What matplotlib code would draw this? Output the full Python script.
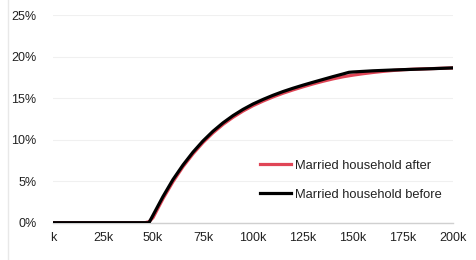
import matplotlib
matplotlib.use("Agg")
import matplotlib.pyplot as plt
from matplotlib.lines import Line2D
from matplotlib.ticker import FuncFormatter

plt.rcParams['font.family'] = ['Liberation Sans', 'DejaVu Sans']

income_k = [0, 10, 20, 30, 40, 46, 48, 50, 55, 60, 65, 70, 75, 80, 85, 90, 95, 100,
            105, 110, 115, 120, 125, 130, 135, 140, 145, 148, 150, 155, 160, 165, 170,
            175, 180, 190, 200]
before = [0, 0, 0, 0, 0, 0, 0, 0.9, 3.15, 5.2, 6.95, 8.5, 9.85, 11.02, 12.03, 12.9,
          13.65, 14.3, 14.85, 15.35, 15.8, 16.2, 16.57, 16.92, 17.26, 17.6, 17.92,
          18.12, 18.16, 18.23, 18.3, 18.35, 18.4, 18.44, 18.48, 18.56, 18.65]
after = [0, 0, 0, 0, 0, 0, 0.12, 0.6, 2.9, 4.95, 6.75, 8.3, 9.66, 10.83, 11.84, 12.7,
         13.45, 14.1, 14.65, 15.15, 15.6, 16.0, 16.37, 16.72, 17.04, 17.33, 17.58,
         17.7, 17.78, 17.95, 18.1, 18.23, 18.34, 18.43, 18.49, 18.57, 18.65]
x_ticks = [0, 25, 50, 75, 100, 125, 150, 175, 200]
y_ticks = [0, 5, 10, 15, 20, 25]
labels = ["Married household after", "Married household before"]

W, H = 477, 260
fig = plt.figure(figsize=(W / 100, H / 100), dpi=100)
ax = fig.add_axes([53 / W, 1 - 222.7 / H, 400 / W, (222.7 - 15.2) / H])

red = '#e04556'
ax.plot(income_k, after, color=red, lw=2.3, solid_joinstyle='round', zorder=3)
ax.plot(income_k, before, color='black', lw=2.3, solid_joinstyle='round', zorder=4)

ax.set_xlim(0, 200)
ax.set_ylim(0, 25)
ax.set_xticks(x_ticks)
ax.set_yticks(y_ticks)
ax.xaxis.set_major_formatter(FuncFormatter(lambda v, p: "k" if v == 0 else f"{int(v)}k"))
ax.yaxis.set_major_formatter(FuncFormatter(lambda v, p: f"{int(v)}%"))
ax.tick_params(length=0, labelsize=9, colors='#222222')
ax.tick_params(axis='x', pad=7)
ax.tick_params(axis='y', pad=12)
for s in ['top', 'right', 'left']:
    ax.spines[s].set_visible(False)
ax.spines['bottom'].set_color('#d0d0d0')
ax.spines['bottom'].set_linewidth(1)
ax.grid(axis='y', color='#f0f0f0', lw=0.8)
ax.set_axisbelow(True)

handles = [Line2D([], [], color=red, lw=2.3), Line2D([], [], color='black', lw=2.3)]
leg = ax.legend(handles, labels, loc='lower right', bbox_to_anchor=(1.0, 0.05),
                frameon=False, fontsize=9.3, handlelength=2.4, handletextpad=0.25,
                labelspacing=1.3)
for t in leg.get_texts():
    t.set_color('#222222')

fig.add_artist(Line2D([8 / W, 8 / W], [0, 1], color='#e8e8e8', lw=1))

fig.savefig("out.png", dpi=100)
